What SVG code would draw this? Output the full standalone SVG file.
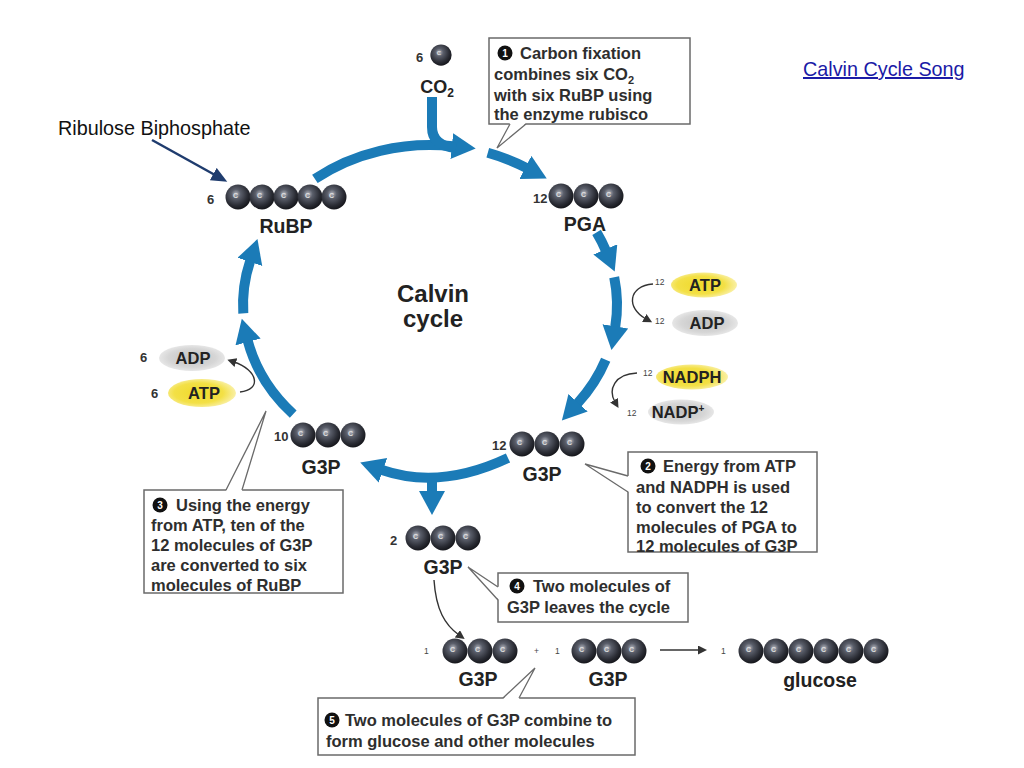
<svg xmlns="http://www.w3.org/2000/svg" width="1024" height="768" viewBox="0 0 1024 768">
<style>
.ring{fill:none;stroke:#1b7bb7;stroke-width:10;marker-end:url(#mBlue)}
.ring0{fill:none;stroke:#1b7bb7;stroke-width:10}
.thin{fill:none;stroke:#333;stroke-width:1.4;marker-end:url(#mBlk)}
.box{fill:#fff;stroke:#6a6a6a;stroke-width:1.5}
.ptr{fill:#fff;stroke:none}
.ptrl{fill:none;stroke:#6a6a6a;stroke-width:1.3}
.bt{font-family:"Liberation Sans",Arial,sans-serif;font-weight:bold;font-size:16.5px;fill:#2e2e2e}
.lbl{font-family:"Liberation Sans",Arial,sans-serif;font-weight:bold;font-size:19.5px;fill:#222;text-anchor:middle}
.num{font-family:"Liberation Sans",Arial,sans-serif;font-weight:bold;font-size:13px;fill:#333}
.tiny{font-family:"Liberation Sans",Arial,sans-serif;font-size:8.5px;fill:#444}
.mol{font-family:"Liberation Sans",Arial,sans-serif;font-weight:bold;font-size:16.5px;fill:#222;text-anchor:middle}
.c{font-family:"Liberation Sans",Arial,sans-serif;font-weight:bold;font-size:7px;fill:#e0e0e0;text-anchor:middle}
.bul{fill:#111}
.bn{font-family:"Liberation Sans",Arial,sans-serif;font-weight:bold;font-size:10px;fill:#fff;text-anchor:middle}
.plain{font-family:"Liberation Sans",Arial,sans-serif;font-size:19.8px;fill:#111}
.link{font-family:"Liberation Sans",Arial,sans-serif;font-size:19.8px;fill:#1a1aa6;text-decoration:underline}
</style>
<defs>
 <radialGradient id="gBall" cx="0.42" cy="0.38" r="0.62">
  <stop offset="0" stop-color="#b4b7c0"/>
  <stop offset="0.3" stop-color="#5a5e6a"/>
  <stop offset="0.75" stop-color="#2a2c34"/>
  <stop offset="1" stop-color="#16171c"/>
 </radialGradient>
 <radialGradient id="gYel" cx="0.45" cy="0.5" r="0.6">
  <stop offset="0" stop-color="#efd92a"/>
  <stop offset="0.6" stop-color="#f3e046"/>
  <stop offset="1" stop-color="#fbf4bf"/>
 </radialGradient>
 <radialGradient id="gGry" cx="0.5" cy="0.5" r="0.6">
  <stop offset="0" stop-color="#c2c2c2"/>
  <stop offset="0.6" stop-color="#d6d6d6"/>
  <stop offset="1" stop-color="#f2f2f2"/>
 </radialGradient>
 <marker id="mBlue" markerUnits="userSpaceOnUse" markerWidth="26" markerHeight="28" refX="1" refY="13" orient="auto"><path d="M0,0 L24,13 L0,26 z" fill="#1b7bb7"/></marker>
 <marker id="mBlk" markerUnits="userSpaceOnUse" markerWidth="10" markerHeight="10" refX="2" refY="4.5" orient="auto"><path d="M0,0 L9,4.5 L0,9 z" fill="#333"/></marker>
 <marker id="mNavy" markerUnits="userSpaceOnUse" markerWidth="18" markerHeight="16" refX="2" refY="7" orient="auto"><path d="M0,0 L16,7 L0,14 z" fill="#1f3c6e"/></marker>
 <g id="ball"><circle r="12.5" fill="url(#gBall)"/><text x="-2.5" y="0.5" class="c">C</text></g>
</defs>
<rect width="1024" height="768" fill="#fff"/>

<g id="connectors">
 <path class="ring" d="M314.9,178.9 A187,160 0 0 1 452.8,146.2"/>
 <path class="ring0" d="M432,97 V127 Q432,146 456,148"/>
 <path class="ring" d="M487.8,152.8 A187,160 0 0 1 526.3,167.9"/>
 <path class="ring" d="M596.6,232.4 A187,160 0 0 1 605.7,250.3"/>
 <path class="ring" d="M614.2,277.2 A187,160 0 0 1 615.2,327.3"/>
 <path class="ring" d="M605.7,359.7 A187,160 0 0 1 577.4,403.5"/>
 <path class="ring" d="M508,458 Q440,490 382,470"/>
 <path class="ring" d="M432,476 V492"/>
 <path class="ring" d="M293.2,414.1 A187,160 0 0 1 247.8,341"/>
 <path class="ring" d="M243.3,313.4 A187,160 0 0 1 250.2,260.9"/>
 <path class="thin" d="M653,284 C628,286 626,308 646,319"/>
 <path class="thin" d="M637,373 C614,374 608,390 615,402"/>
 <path class="thin" d="M240,392 C262,390 258,370 234,362"/>
 <path class="thin" d="M434,580 C436,610 445,625 459,635"/>
 <path class="thin" d="M660,650 H700"/>
 <path fill="none" stroke="#1f3c6e" stroke-width="2.5" marker-end="url(#mNavy)" d="M152,140 L215,175"/>
</g>

<g id="title-link">
 <text class="link" x="803" y="76">Calvin Cycle Song</text>
</g>

<g id="ribulose-label">
 <text class="plain" x="58" y="135">Ribulose Biphosphate</text>
</g>

<g id="co2">
 <text class="num" x="416" y="62">6</text>
 <use href="#ball" transform="translate(441,55) scale(0.85)"/>
 <text class="mol" x="437" y="93" style="font-size:18px">CO<tspan font-size="12" dy="4">2</tspan></text>
</g>

<g id="rubp">
 <text class="num" x="207" y="204">6</text>
 <use href="#ball" x="238" y="197"/>
 <use href="#ball" x="262" y="197"/>
 <use href="#ball" x="286" y="197"/>
 <use href="#ball" x="310" y="197"/>
 <use href="#ball" x="334" y="197"/>
 <text class="lbl" x="286" y="233">RuBP</text>
</g>

<g id="pga">
 <text class="num" x="533" y="203">12</text>
 <use href="#ball" x="561" y="196"/>
 <use href="#ball" x="586" y="196"/>
 <use href="#ball" x="611" y="196"/>
 <text class="lbl" x="585" y="231">PGA</text>
</g>

<g id="calvin-label">
 <text class="lbl" x="433" y="302" style="font-size:24px">Calvin</text>
 <text class="lbl" x="433" y="327" style="font-size:24px">cycle</text>
</g>

<g id="atp-adp-right">
 <text class="tiny" x="655" y="285">12</text>
 <ellipse cx="704" cy="285" rx="33" ry="12.5" fill="url(#gYel)"/>
 <text class="mol" x="705" y="291">ATP</text>
 <text class="tiny" x="655" y="324">12</text>
 <ellipse cx="705" cy="323" rx="33" ry="13" fill="url(#gGry)"/>
 <text class="mol" x="707" y="329">ADP</text>
</g>

<g id="nadph">
 <text class="tiny" x="643" y="376">12</text>
 <ellipse cx="692" cy="377" rx="36" ry="12.5" fill="url(#gYel)"/>
 <text class="mol" x="692" y="383">NADPH</text>
 <text class="tiny" x="627" y="416">12</text>
 <ellipse cx="681" cy="412" rx="33" ry="12.5" fill="url(#gGry)"/>
 <text class="mol" x="678" y="418">NADP<tspan font-size="10" dy="-6">+</tspan></text>
</g>

<g id="atp-adp-left">
 <text class="num" x="140" y="362">6</text>
 <ellipse cx="192" cy="358" rx="33" ry="13" fill="url(#gGry)"/>
 <text class="mol" x="193" y="364">ADP</text>
 <text class="num" x="151" y="398">6</text>
 <ellipse cx="202" cy="393" rx="34" ry="14" fill="url(#gYel)"/>
 <text class="mol" x="204" y="399">ATP</text>
</g>

<g id="g3p-10">
 <text class="num" x="274" y="441">10</text>
 <use href="#ball" x="303" y="435"/>
 <use href="#ball" x="328" y="435"/>
 <use href="#ball" x="353" y="435"/>
 <text class="lbl" x="321" y="474">G3P</text>
</g>

<g id="g3p-12">
 <text class="num" x="492" y="450">12</text>
 <use href="#ball" x="522" y="444"/>
 <use href="#ball" x="547" y="444"/>
 <use href="#ball" x="572" y="444"/>
 <text class="lbl" x="542" y="481">G3P</text>
</g>

<g id="g3p-2">
 <text class="num" x="390" y="545">2</text>
 <use href="#ball" x="418" y="538"/>
 <use href="#ball" x="443" y="538"/>
 <use href="#ball" x="468" y="538"/>
 <text class="lbl" x="443" y="574">G3P</text>
</g>

<g id="g3p-a">
 <text class="tiny" x="424" y="654">1</text>
 <use href="#ball" x="455" y="651"/>
 <use href="#ball" x="480" y="651"/>
 <use href="#ball" x="505" y="651"/>
 <text class="lbl" x="478" y="686">G3P</text>
 <text class="tiny" x="534" y="654">+</text>
</g>

<g id="g3p-b">
 <text class="tiny" x="555" y="654">1</text>
 <use href="#ball" x="584" y="651"/>
 <use href="#ball" x="609" y="651"/>
 <use href="#ball" x="634" y="651"/>
 <text class="lbl" x="608" y="686">G3P</text>
</g>

<g id="glucose">
 <text class="tiny" x="721" y="654">1</text>
 <use href="#ball" x="751" y="651"/>
 <use href="#ball" x="776" y="651"/>
 <use href="#ball" x="801" y="651"/>
 <use href="#ball" x="826" y="651"/>
 <use href="#ball" x="851" y="651"/>
 <use href="#ball" x="876" y="651"/>
 <text class="lbl" x="820" y="687">glucose</text>
</g>

<g id="box1">
 <rect class="box" x="489" y="38" width="201" height="86"/>
 <polygon class="ptr" points="510,123 497,148 526,123"/>
 <polyline class="ptrl" points="510,124 497,148 526,124"/>
 <circle class="bul" cx="505" cy="53" r="7.5"/><text class="bn" x="505" y="57">1</text>
 <text class="bt" x="520" y="59">Carbon fixation</text>
 <text class="bt" x="494" y="80">combines six CO<tspan font-size="11" dy="4">2</tspan></text>
 <text class="bt" x="494" y="101">with six RuBP using</text>
 <text class="bt" x="494" y="120">the enzyme rubisco</text>
</g>

<g id="box2">
 <rect class="box" x="628" y="452" width="189" height="100"/>
 <polygon class="ptr" points="629,476 585,464 629,492"/>
 <polyline class="ptrl" points="628,476 585,464 628,492"/>
 <circle class="bul" cx="648" cy="466" r="7.5"/><text class="bn" x="648" y="470">2</text>
 <text class="bt" x="663" y="472">Energy from ATP</text>
 <text class="bt" x="636" y="493">and NADPH is used</text>
 <text class="bt" x="636" y="513">to convert the 12</text>
 <text class="bt" x="636" y="533">molecules of PGA to</text>
 <text class="bt" x="636" y="552">12 molecules of G3P</text>
</g>

<g id="box3">
 <rect class="box" x="144" y="490" width="199" height="103"/>
 <polygon class="ptr" points="226,491 266,411 242,491"/>
 <polyline class="ptrl" points="226,490 266,411 242,490"/>
 <circle class="bul" cx="160" cy="505" r="7.5"/><text class="bn" x="160" y="509">3</text>
 <text class="bt" x="176" y="511">Using the energy</text>
 <text class="bt" x="151" y="531">from ATP, ten of the</text>
 <text class="bt" x="151" y="551">12 molecules of G3P</text>
 <text class="bt" x="151" y="571">are converted to six</text>
 <text class="bt" x="151" y="591">molecules of RuBP</text>
</g>

<g id="box4">
 <rect class="box" x="498" y="573" width="190" height="49"/>
 <polygon class="ptr" points="499,587 468,567 499,600"/>
 <polyline class="ptrl" points="498,587 468,567 498,600"/>
 <circle class="bul" cx="517" cy="586" r="7.5"/><text class="bn" x="517" y="590">4</text>
 <text class="bt" x="533" y="592">Two molecules of</text>
 <text class="bt" x="507" y="613">G3P leaves the cycle</text>
</g>

<g id="box5">
 <rect class="box" x="318" y="698" width="317" height="57"/>
 <polygon class="ptr" points="503,699 535,668 519,699"/>
 <polyline class="ptrl" points="503,698 535,668 519,698"/>
 <circle class="bul" cx="332" cy="720" r="7.5"/><text class="bn" x="332" y="724">5</text>
 <text class="bt" x="345" y="726">Two molecules of G3P combine to</text>
 <text class="bt" x="326" y="747">form glucose and other molecules</text>
</g>
</svg>
